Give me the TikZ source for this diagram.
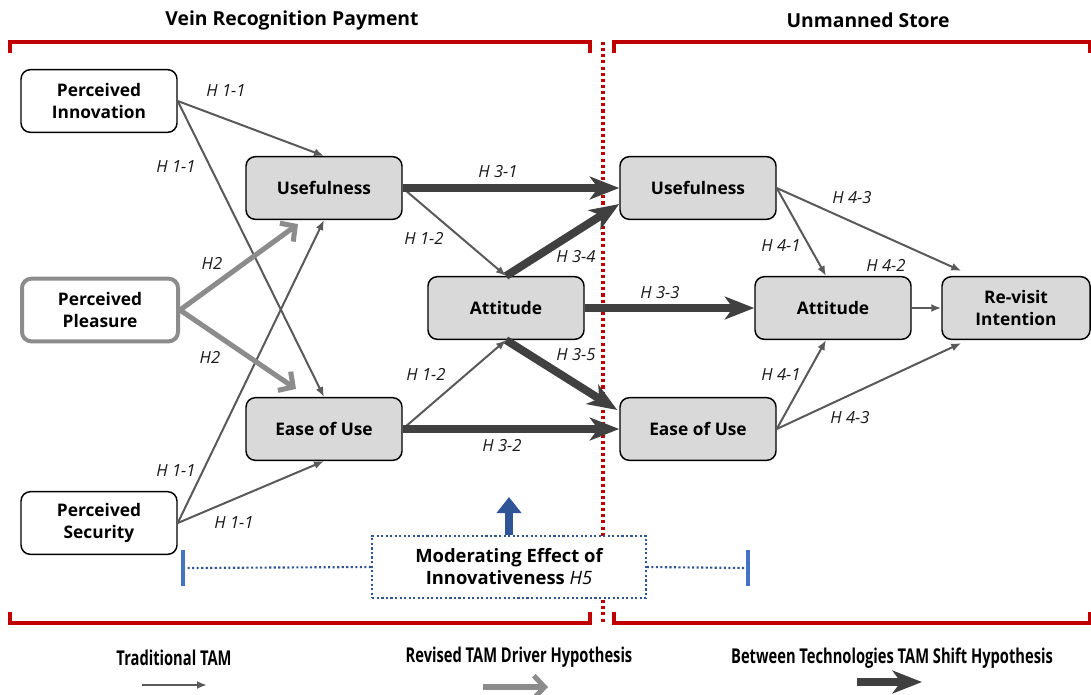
\documentclass[tikz,border=0pt]{standalone}
\usepackage{fontspec}
\setmainfont{Open Sans}
\newfontfamily\legendfont[FakeStretch=0.72]{Open Sans}
\usetikzlibrary{arrows.meta,calc}
\definecolor{boxgray}{HTML}{D9D9D9}
\definecolor{tradgray}{HTML}{595959}
\definecolor{midgray}{HTML}{8C8C8C}
\definecolor{shiftgray}{HTML}{404040}
\definecolor{brred}{HTML}{C00000}
\definecolor{modblue}{HTML}{2F5597}
\definecolor{tickblue}{HTML}{4472C4}

\begin{document}
\begin{tikzpicture}[x=0.75pt,y=-0.75pt]
   \useasboundingbox (0,0) rectangle (1091,694);
   \tikzstyle{construct}=[draw=black, line width=1.1pt, rounded corners=7pt, minimum width=117pt, minimum height=47pt, align=center, fill=white, font=\fontsize{13}{16}\selectfont\bfseries]
   \tikzstyle{core}=[construct, fill=boxgray]
   \tikzstyle{hyp}=[font=\fontsize{12.5}{14}\selectfont\itshape, text=black!90, inner sep=0pt]
   \tikzstyle{trad}=[draw=tradgray, line width=1.5pt, -{Latex[length=7.5pt,width=6pt]}]
   \tikzstyle{revised}=[draw=midgray, line width=3.8pt, -{Straight Barb[length=8pt,width=17pt]}]
   \tikzstyle{tamshift}=[draw=shiftgray, line width=6pt, -{Stealth[length=22pt,width=17pt,inset=6pt]}]
   \tikzstyle{bracket}=[draw=brred, line width=2.3pt]
   \tikzstyle{legend}=[font=\legendfont\bfseries\fontsize{15.3}{17}\selectfont]
   \tikzstyle{title}=[font=\fontsize{14.5}{17}\selectfont\bfseries]

   % groups
   \node[title] (vein) at (292,20) {Vein Recognition Payment};
   \node[title] (store) at (868,20) {Unmanned Store};
   \draw[bracket] (10,53) -- (10,42) -- (590,42) -- (590,53);
   \draw[bracket] (10,612) -- (10,623) -- (590,623) -- (590,612);
   \draw[bracket] (614,53) -- (614,42) -- (1090,42) -- (1090,53);
   \draw[bracket] (614,612) -- (614,623) -- (1090,623) -- (1090,612);
   \draw[brred, line width=2.3pt, dash pattern=on 2.3pt off 2.3pt] (603,42) -- (603,622);

   % constructs
   \node[construct] (pinn) at (99,101) {Perceived\\Innovation};
   \node[construct, draw=midgray, line width=3pt] (pple) at (100,310) {Perceived\\Pleasure};
   \node[construct] (psec) at (99,523) {Perceived\\Security};
   \node[core] (usefL) at (324,188) {Usefulness};
   \node[core] (easeL) at (324,429) {Ease of Use};
   \node[core] (attM) at (506,308) {Attitude};
   \node[core] (usefR) at (698,188) {Usefulness};
   \node[core] (easeR) at (698,429) {Ease of Use};
   \node[core] (attR) at (833,308) {Attitude};
   \node[core, minimum width=111pt] (revisit) at (1016,308) {Re-visit\\Intention};

   % traditional TAM paths
   \foreach \a/\b in {pinn.east/usefL.north, pinn.east/easeL.north, psec.east/usefL.south, psec.east/easeL.south, usefL.east/attM.north, easeL.east/attM.south, attR.east/revisit.west}
      \draw[trad] (\a) -- (\b);
   \draw[trad] (usefR.east) -- ($(attR.north)+(-7,0)$);
   \draw[trad] (easeR.east) -- ($(attR.south)+(-7,0)$);
   \draw[trad] (usefR.east) -- ($(revisit.north west)+(20,-5)$);
   \draw[trad] (easeR.east) -- ($(revisit.south west)+(20,3)$);

   % revised driver paths
   \draw[revised] (pple.east) -- ($(usefL.south)+(-26,4)$);
   \draw[revised] (pple.east) -- ($(easeL.north)+(-28,-8)$);

   % shift paths
   \draw[tamshift] (usefL.east) -- (usefR.west);
   \draw[tamshift] (easeL.east) -- (easeR.west);
   \draw[tamshift] (attM.east) -- (attR.west);
   \draw[tamshift] (attM.north) -- ($(usefR.west)+(0,16)$);
   \draw[tamshift] (attM.south) -- ($(easeR.west)+(-2,-19)$);

   % hypotheses
   \node[hyp] (h11a) at (226,91) {H 1-1};
   \node[hyp] (h11b) at (176,167) {H 1-1};
   \node[hyp] (h2a) at (212,263) {H2};
   \node[hyp] (h2b) at (210,357) {H2};
   \node[hyp] (h11c) at (176,471) {H 1-1};
   \node[hyp] (h11d) at (234,523) {H 1-1};
   \node[hyp] (h12a) at (424,238) {H 1-2};
   \node[hyp] (h12b) at (426,374) {H 1-2};
   \node[hyp] (h31) at (498,172) {H 3-1};
   \node[hyp] (h32) at (502,446) {H 3-2};
   \node[hyp] (h33) at (660,293) {H 3-3};
   \node[hyp] (h34) at (576,257) {H 3-4};
   \node[hyp] (h35) at (576,355) {H 3-5};
   \node[hyp] (h43a) at (852,198) {H 4-3};
   \node[hyp] (h41a) at (781,246) {H 4-1};
   \node[hyp] (h42) at (886,265) {H 4-2};
   \node[hyp] (h41b) at (781,375) {H 4-1};
   \node[hyp] (h43b) at (850,418) {H 4-3};

   % moderation
   \node[draw=modblue, fill=white, line width=1.6pt, dash pattern=on 1.6pt off 1.8pt, minimum width=205pt, minimum height=47pt, align=center, font=\fontsize{13.8}{16.5}\selectfont\bfseries] (mod) at (509,567) {Moderating Effect of\\Innovativeness \textit{\mdseries H5}};
   \coordinate (lend) at (183,568);
   \coordinate (rend) at (748,568);
   \coordinate (modtip) at (509,497);
   \draw[modblue, line width=6pt, -{Triangle[length=12pt,width=18pt]}] (mod.north) -- (modtip);
   \draw[modblue, line width=1.6pt, dash pattern=on 1.6pt off 1.8pt] (lend) -- (mod.west);
   \draw[modblue, line width=1.6pt, dash pattern=on 1.6pt off 1.8pt] (mod.east) -- (rend);
   \draw[tickblue, line width=2.4pt] ($(lend)+(0,-18)$) -- ($(lend)+(0,18)$);
   \draw[tickblue, line width=2.4pt] ($(rend)+(0,-18)$) -- ($(rend)+(0,18)$);

   % legend
   \node[legend] (ltrad) at (174,658) {Traditional TAM};
   \node[legend] (lrev) at (519,657) {Revised TAM Driver Hypothesis};
   \node[legend] (lshift) at (892,658) {Between Technologies TAM Shift Hypothesis};
   \coordinate (t0) at (142,685); \coordinate (t1) at (207,685);
   \coordinate (r0) at (483,687); \coordinate (r1) at (548,687);
   \coordinate (s0) at (857,682); \coordinate (s1) at (922,682);
   \draw[trad] (t0) -- (t1);
   \draw[revised] (r0) -- (r1);
   \draw[tamshift] (s0) -- (s1);
\end{tikzpicture}
\end{document}
